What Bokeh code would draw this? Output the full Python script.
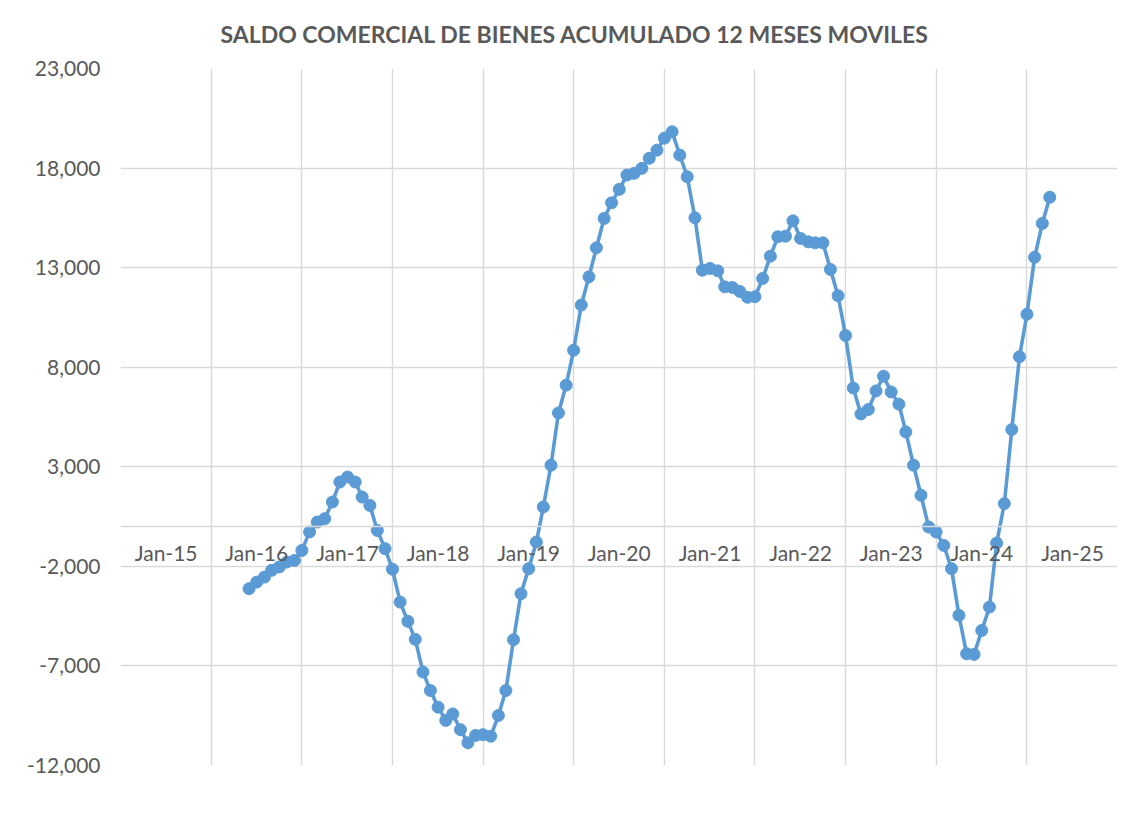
import pandas as pd
from bokeh.plotting import figure
from bokeh.models import Range1d, FixedTicker, DatetimeTickFormatter, NumeralTickFormatter, ColumnDataSource
from bokeh.embed import file_html
from bokeh.resources import INLINE

title_text = "SALDO COMERCIAL DE BIENES ACUMULADO 12 MESES MOVILES"
first_month = "2015-12-01"

# 12-month rolling trade balance (millions), Dec-2015 .. Oct-2024
saldo = [
    -3120,
    -2790, -2540, -2200, -2030, -1785, -1700, -1200, -270, 225, 395, 1230, 2235,
    2485, 2235, 1480, 1060, -195, -1110, -2145, -3795, -4760, -5665, -7310, -8235,
    -9070, -9735, -9410, -10200, -10860, -10490, -10450, -10530, -9490, -8235, -5685, -3370,
    -2115, -780, 980, 3080, 5705, 7100, 8850, 11120, 12540, 13995, 15470, 16255,
    16930, 17650, 17735, 17985, 18490, 18900, 19500, 19825, 18650, 17565, 15500, 12870,
    12960, 12840, 12035, 12005, 11805, 11510, 11540, 12455, 13575, 14550, 14580, 15350,
    14465, 14295, 14245, 14245, 12910, 11590, 9590, 6960, 5655, 5875, 6810, 7550,
    6760, 6145, 4750, 3080, 1570, -25, -275, -950, -2115, -4460, -6390, -6420,
    -5220, -4045, -830, 1150, 4870, 8525, 10660, 13520, 15220, 16535,
]

y_ticks = [-12000, -7000, -2000, 3000, 8000, 13000, 18000, 23000]
label_years = [2015, 2016, 2017, 2018, 2019, 2020, 2021, 2022, 2023, 2024, 2025]
grid_years = [2015, 2016, 2017, 2018, 2019, 2020, 2021, 2022, 2023, 2024]


def ms(s):
    return pd.Timestamp(s).timestamp() * 1000.0


dates = pd.date_range(first_month, periods=len(saldo), freq="MS")
src = ColumnDataSource(dict(fecha=dates, saldo=saldo))

GREY_TXT = "#595959"
GRID = "#d9d9d9"
BLUE = "#5B9BD5"
FONT = "Lato"

p = figure(
    width=1124, height=820,
    x_axis_type="datetime",
    x_range=Range1d(ms("2014-07-01"), ms("2025-07-01")),
    y_range=Range1d(-12000, 23000),
    output_backend="svg", toolbar_location=None,
    min_border_left=120, min_border_right=7, min_border_top=68, min_border_bottom=55,
)
p.outline_line_color = None
p.background_fill_color = "white"
p.border_fill_color = "white"

# title
p.title.text = title_text
p.title.align = "left"
p.title.vertical_align = "top"
p.title.offset = 100
p.title.standoff = 38
p.title.text_font = FONT
p.title.text_font_size = "23px"
p.title.text_font_style = "bold"
p.title.text_color = GREY_TXT

# grids
p.ygrid.ticker = FixedTicker(ticks=y_ticks)
p.xgrid.ticker = FixedTicker(ticks=[ms(f"{y}-07-01") for y in grid_years])
for g in (p.xgrid, p.ygrid):
    g.grid_line_color = GRID
    g.grid_line_width = 1.4

# y axis
ya = p.yaxis[0]
ya.ticker = FixedTicker(ticks=y_ticks)
ya.formatter = NumeralTickFormatter(format="0,0")
ya.axis_line_color = None
ya.major_tick_line_color = None
ya.minor_tick_line_color = None
ya.major_tick_out = 0
ya.major_tick_in = 0
ya.major_label_standoff = 20
ya.major_label_text_font = FONT
ya.major_label_text_font_size = "21px"
ya.major_label_text_color = GREY_TXT

# x axis crossing at zero
xa = p.xaxis[0]
xa.fixed_location = 0
xa.ticker = FixedTicker(ticks=[ms(f"{y}-01-01") for y in label_years])
xa.formatter = DatetimeTickFormatter(days="%b-%y", months="%b-%y", years="%b-%y")
xa.axis_line_color = GRID
xa.axis_line_width = 1.4
xa.major_tick_line_color = None
xa.minor_tick_line_color = None
xa.major_tick_out = 0
xa.major_tick_in = 0
xa.major_label_standoff = 13
xa.major_label_text_font = FONT
xa.major_label_text_font_size = "21px"
xa.major_label_text_color = GREY_TXT

p.line("fecha", "saldo", source=src, line_color=BLUE, line_width=3.6)
p.scatter("fecha", "saldo", source=src, size=12, fill_color=BLUE, line_color=BLUE)

open("out.html", "w").write(file_html(p, INLINE))
